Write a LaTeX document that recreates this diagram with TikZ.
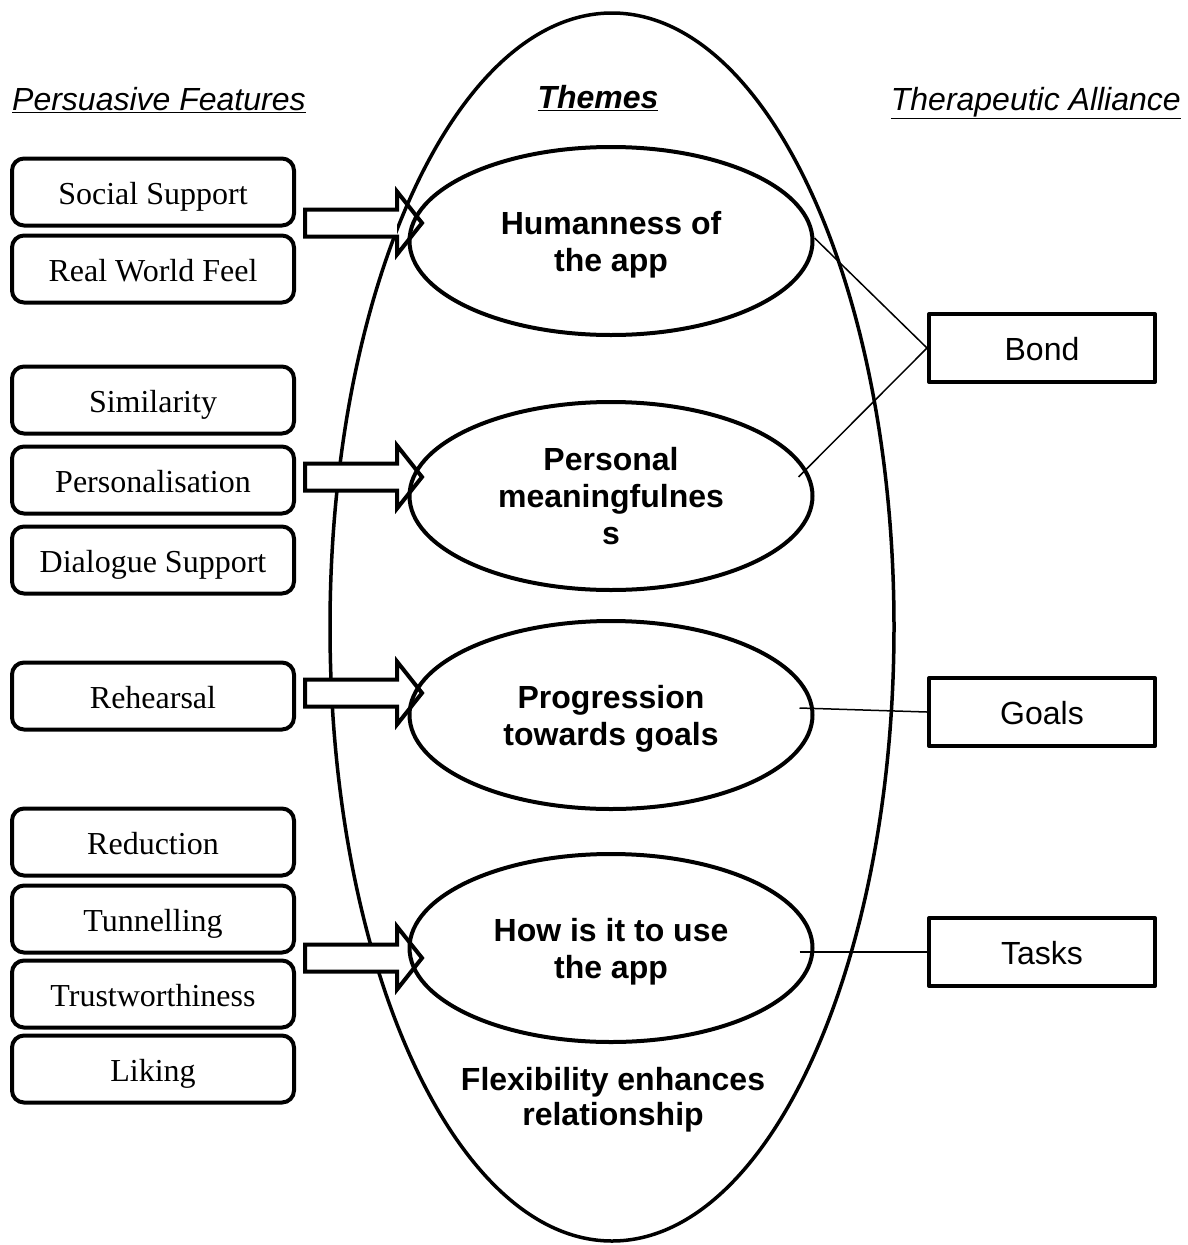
\documentclass[tikz,border=0pt]{standalone}
\usepackage{fontspec}
\setmainfont{Liberation Serif}
\setsansfont{Liberation Sans}
\usetikzlibrary{calc,shapes.geometric}
\def\blockarrow(#1){\fill[white] ($(#1)+(-117,-13.5)$) rectangle ($(#1)+(-25,13.5)$);
	\draw[line width=4pt, line join=miter] ($(#1)+(-117,-13.5)$) -- ($(#1)+(-25,-13.5)$) -- ($(#1)+(-25,-31.5)$) -- (#1) -- ($(#1)+(-25,31.5)$) -- ($(#1)+(-25,13.5)$) -- ($(#1)+(-117,13.5)$) -- cycle;}

\begin{document}
\begin{tikzpicture}[x=1pt, y=-1pt,
	feature/.style={draw, rounded corners=12pt, line width=4pt, minimum width=282pt, minimum height=67pt, inner sep=0pt, text height=24pt, text depth=0pt, font=\fontsize{32}{37}\selectfont},
	theme/.style={draw, ellipse, line width=4pt, minimum width=403pt, minimum height=188pt, inner sep=0pt, align=center, text depth=0pt, font=\sffamily\bfseries\fontsize{32}{37}\selectfont},
	alliance/.style={draw, line width=4pt, line join=round, minimum width=226pt, minimum height=68pt, inner sep=0pt, text height=24pt, text depth=0pt, font=\sffamily\fontsize{32}{37}\selectfont},
	header/.style={inner sep=0pt, font=\sffamily\itshape\fontsize{32}{37}\selectfont},
	link/.style={line width=1.5pt}]
			%%%%% START %%%%%
			
			\useasboundingbox (0, 0) rectangle (1188, 1245);
			
			\node[header, anchor=base west] (hfeat) at (12, 110) {\underline{Persuasive Features}};
			\node[header, anchor=base] (htheme) at (598, 108) {\bfseries\underline{Themes}};
			\node[header, anchor=base east] (hall) at (1181, 110) {\underline{Therapeutic Alliance}};
			
			\draw[line width=3.5pt] (612, 627) ellipse [x radius=282pt, y radius=614pt];
			
			\node[feature] (social) at (153, 192) {Social Support};
			\node[feature] (realworld) at (153, 269) {Real World Feel};
			
			\node[feature] (simil) at (153, 400) {Similarity};
			\node[feature] (person) at (153, 480) {Personalisation};
			\node[feature] (dialog) at (153, 560) {Dialogue Support};
			
			\node[feature] (rehear) at (153, 696) {Rehearsal};
			
			\node[feature] (reduct) at (153, 842) {Reduction};
			\node[feature] (tunnel) at (153, 919) {Tunnelling};
			\node[feature] (trust) at (153, 994) {Trustworthiness};
			\node[feature] (liking) at (153, 1069) {Liking};
			
			\coordinate (tiphuman) at (422, 223);
			\coordinate (tipmean) at (422, 477);
			\coordinate (tipprog) at (422, 693);
			\coordinate (tipuse) at (422, 958);
			\blockarrow(tiphuman)
			\blockarrow(tipmean)
			\blockarrow(tipprog)
			\blockarrow(tipuse)
			
			\node[theme] (human) at (611, 241) {Humanness of\\the app};
			\node[theme] (mean) at (611, 496) {Personal\\meaningfulnes\\s};
			\node[theme] (prog) at (611, 715) {Progression\\towards goals};
			\node[theme] (use) at (611, 948) {How is it to use\\the app};
			\node[align=center, font=\sffamily\bfseries\fontsize{32}{35}\selectfont] (flex) at (613, 1100) {Flexibility enhances\\relationship};
			
			\node[alliance] (bond) at (1042, 348) {Bond};
			\node[alliance] (goals) at (1042, 712) {Goals};
			\node[alliance] (tasks) at (1042, 952) {Tasks};
			
			\draw[link] ([yshift=3pt]human.east) -- (bond.west);
			\draw[link] ([xshift=-16pt, yshift=19pt]mean.east) -- (bond.west);
			\draw[link] ([xshift=-15pt, yshift=7pt]prog.east) -- (goals.west);
			\draw[link] ([xshift=-15pt, yshift=-4pt]use.east) -- (tasks.west);
			
			%%%%% END %%%%%
\end{tikzpicture}
\end{document}
